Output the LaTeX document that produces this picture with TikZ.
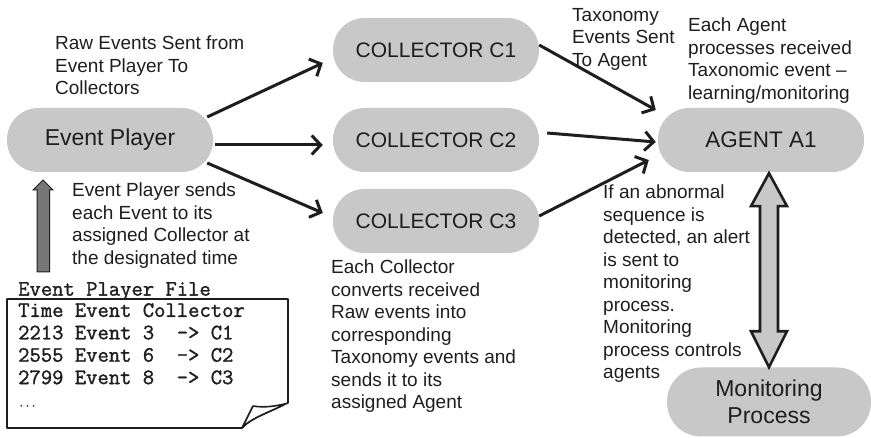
\documentclass[tikz,border=0pt]{standalone}
\usepackage{fontspec}
\setmainfont{Liberation Sans}
\newfontfamily\filefont{Latin Modern Mono}[FakeBold=1.4]
\usetikzlibrary{arrows.meta,calc}
\definecolor{pillgrey}{HTML}{C8C8C8}
\definecolor{ink}{HTML}{1E1E1E}
\definecolor{shaftgrey}{HTML}{777777}

\begin{document}
\begin{tikzpicture}[x=1pt,y=-1pt,
  pill/.style={fill=pillgrey, rounded corners=31.5pt, minimum width=206pt,
    minimum height=64pt, inner sep=0pt, text=ink,
    font=\fontsize{22.5}{26}\selectfont},
  collector/.style={pill, font=\fontsize{21}{25}\selectfont},
  note/.style={anchor=north west, align=left, inner sep=0pt, text=ink,
    font=\fontsize{19}{22.5}\selectfont},
  filetext/.style={anchor=north west, align=left, inner sep=0pt, text=ink,
    font=\filefont\fontsize{22}{22.4}\selectfont},
  flow/.style={line width=3pt, draw=ink,
    -{Straight Barb[length=9pt,width=19pt,line width=3pt]}},
]
\useasboundingbox (0,0) rectangle (871,438);

% main actors
\node[pill, font=\fontsize{23}{26}\selectfont] (ep) at (110,140) {Event Player};
\node[collector] (c1) at (436,50)  {COLLECTOR C1};
\node[collector] (c2) at (436,140) {COLLECTOR C2};
\node[collector] (c3) at (436,221) {COLLECTOR C3};
\node[pill] (a1) at (761,140) {AGENT A1};
\node[pill, minimum width=204pt, minimum height=69pt, rounded corners=34pt,
      align=center, font=\fontsize{23}{27}\selectfont] (mp) at (769,402)
      {Monitoring\\Process};

% raw events to the collectors
\draw[flow] ([shift={(-6,-23)}]ep.east) -- ([shift={(-10,13)}]c1.west);
\draw[flow] ([shift={(2,5)}]ep.east)    -- ([shift={(-10,5)}]c2.west);
\draw[flow] ([shift={(-6,23)}]ep.east)  -- ([shift={(-10,-8)}]c3.west);

% taxonomy events to the agent
\draw[flow] ([shift={(0,-5)}]c1.east)  -- ([shift={(-2,-30)}]a1.west);
\draw[flow] ([shift={(8,-7)}]c2.east)  -- ([shift={(-2,2)}]a1.west);
\draw[flow] ([shift={(0,-5)}]c3.east)  -- ([shift={(-9,20)}]a1.west);

% two-way link between agent and monitoring process
\coordinate (dt) at ([xshift=8]a1.south);
\coordinate (db) at ([xshift=0]mp.north);
\draw[line width=2.6pt, draw=ink, fill=pillgrey, line join=miter]
  ($(dt)+(0,1)$) -- ($(dt)+(18,34)$) -- ($(dt)+(9,34)$)
  -- ($(db)+(9,-36)$) -- ($(db)+(18,-36)$) -- ($(db)+(0,0)$)
  -- ($(db)+(-18,-36)$) -- ($(db)+(-9,-36)$)
  -- ($(dt)+(-9,34)$) -- ($(dt)+(-18,34)$) -- cycle;

% event player file
\node[filetext] (ftitle) at (18,282) {Event Player File};
\draw[line width=1.6pt, draw=ink, fill=white, line join=round]
  (7,299) -- (288,299) -- (288,403) -- (285,404)
  .. controls (275,410) and (250,418) .. (242,428) -- (7,428) -- cycle;
\draw[line width=1.6pt, draw=ink, fill=white, line join=round]
  (242,428) -- (253,406) .. controls (265,408) and (275,406) .. (285,404)
  .. controls (275,410) and (250,418) .. (242,428);
\node[filetext] (fbody) at (18,303)
  {Time Event Collector\\
   2213 Event 3~~-> C1\\
   2555 Event 6~~-> C2\\
   2799 Event 8~~-> C3\\
   \fontsize{12}{14}\selectfont ...};

% upward arrow from the file to the player
\draw[line width=1pt, draw=ink, fill=shaftgrey, line join=miter]
  (43,180) -- (53,190) -- (49.5,190) -- (49.5,272) -- (37,272)
  -- (37,190) -- (33,190) -- cycle;

% notes
\node[note] (n1) at (55,36)
  {Raw Events Sent from\\Event Player To\\Collectors};
\node[note] (n2) at (72,183)
  {Event Player sends\\each Event to its\\assigned Collector at\\the designated time};
\node[note] (n3) at (331,260)
  {Each Collector\\converts received\\Raw events into\\corresponding\\Taxonomy events and\\sends it to its\\assigned Agent};
\node[note] (n4) at (572,8)
  {Taxonomy\\Events Sent\\To Agent};
\node[note] (n5) at (688,18)
  {Each Agent\\processes received\\Taxonomic event --\\learning/monitoring};
\node[note] (n6) at (603,185)
  {If an abnormal\\sequence is\\detected, an alert\\is sent to\\monitoring\\process.\\Monitoring\\process controls\\agents};
\end{tikzpicture}
\end{document}
